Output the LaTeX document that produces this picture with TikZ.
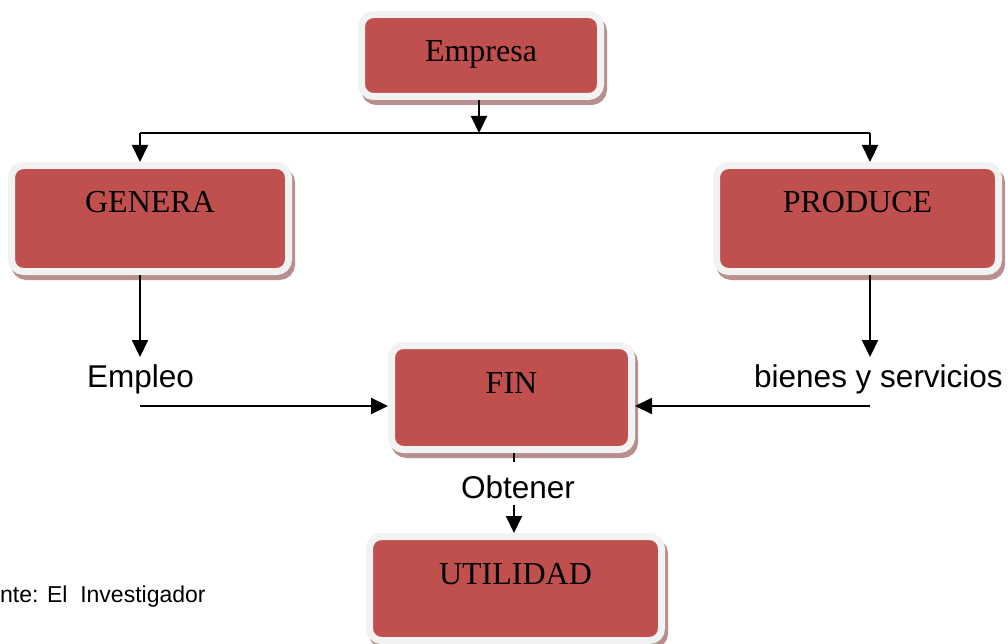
\documentclass[tikz,border=0pt]{standalone}
\usepackage{fontspec}
\setmainfont{Liberation Serif}
\newfontfamily\labelfont{Liberation Sans}
\usetikzlibrary{arrows.meta,calc}

\definecolor{boxred}{RGB}{192,80,77}
\definecolor{boxrim}{RGB}{242,242,242}
\definecolor{boxshade}{RGB}{183,143,143}

\tikzset{
  stepbox/.style={
    rectangle, rounded corners=12pt, inner sep=0pt, outer sep=3.5pt,
    fill=boxred, draw=boxrim, line width=7pt,
    text height=47.5pt,
    font=\fontsize{32}{38}\selectfont,
    preaction={fill=boxshade, draw=boxshade,
               transform canvas={xshift=3pt, yshift=-5pt}}
  },
  tag/.style={inner sep=0pt, font=\labelfont\fontsize{31.5}{36}\selectfont},
  link/.style={line width=2.1pt},
  flow/.style={link, -{Triangle[width=16pt,length=17pt]}}
}

\begin{document}
\begin{tikzpicture}[x=1pt,y=-1pt]
  \useasboundingbox (0,0) rectangle (1008,644);

  % boxes
  \node[stepbox, minimum width=239pt, text depth=34.5pt] (empresa)  at (481,55.5)    {Empresa};
  \node[stepbox, minimum width=277pt, text depth=58.5pt] (genera)   at (150,218.5)   {GENERA};
  \node[stepbox, minimum width=282pt, text depth=58.5pt] (produce)  at (857.5,218.5) {PRODUCE};
  \node[stepbox, minimum width=240pt, text depth=56.5pt] (fin)      at (511.5,397.5) {FIN};
  \node[stepbox, minimum width=292pt, text depth=56.5pt] (utilidad) at (515.5,588.5) {UTILIDAD};

  % free texts
  \node[tag, anchor=base west] (empleo) at (87,387)  {Empleo};
  \node[tag, anchor=base west] (bienes) at (754,387) {bienes y servicios};
  \node[tag, anchor=base]      (obtener) at (518,498) {Obtener};
  \node[inner sep=0pt, anchor=base west, font=\labelfont\fontsize{23}{28}\selectfont]
       (fuente) at (0,602) {nte: El\ \ Investigador};

  % branch points and free ends
  \coordinate (jm) at (479,133);
  \coordinate (jl) at (140,133);
  \coordinate (jr) at (870,133);
  \coordinate (ea) at (140,357);
  \coordinate (be) at (870,357);
  \coordinate (el) at (140,406);
  \coordinate (er) at (870,406);
  \coordinate (ob) at (514,462);
  \coordinate (ob2) at (514,505);

  % connectors
  \draw[flow] (empresa.south -| jm) -- (jm);
  \draw[link] (jl) -- (jr);
  \draw[flow] (jl) -- (genera.north -| jl);
  \draw[flow] (jr) -- (produce.north -| jr);
  \draw[flow] (genera.south -| ea) -- (ea);
  \draw[flow] (produce.south -| be) -- (be);
  \draw[flow] (el) -- (fin.west |- el);
  \draw[flow] (er) -- (fin.east |- er);
  \draw[link] (fin.south -| ob) -- (ob);
  \draw[flow] (ob2) -- (utilidad.north -| ob2);
\end{tikzpicture}
\end{document}
